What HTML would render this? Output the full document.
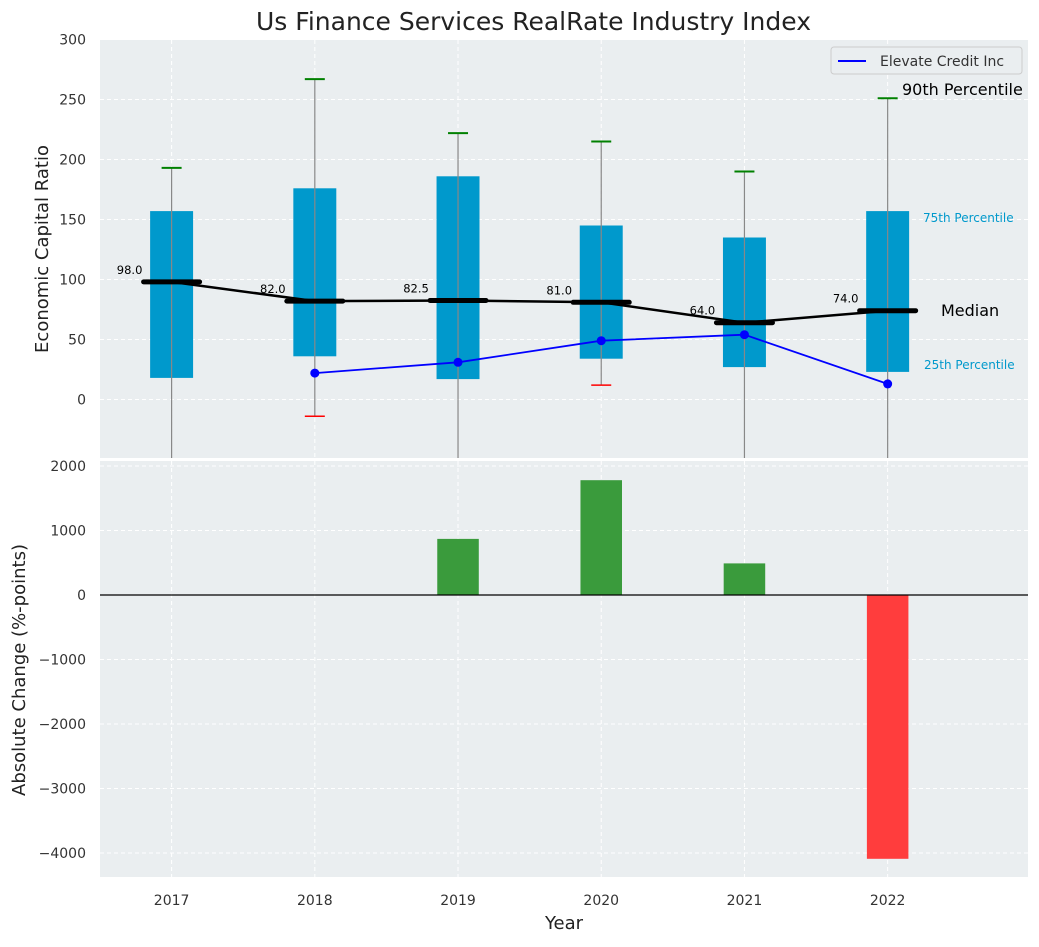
<!DOCTYPE html>
<html><head><meta charset="utf-8"><style>
body{margin:0;background:#fff;font-family:"Liberation Sans","DejaVu Sans",sans-serif}
svg text{font-family:"DejaVu Sans","Liberation Sans",sans-serif}
</style></head><body>
<svg id="c" width="1039" height="942" xmlns="http://www.w3.org/2000/svg"></svg>
<script>
const years=[2017,2018,2019,2020,2021,2022];
const q25=[18,36,17,34,27,23];
const q75=[157,176,186,145,135,157];
const p90=[193,267,222,215,190,251];
const p10=[-80,-14,-80,12,-80,-80];
const medians=[98,82,82.5,81,64,74];
const elevYears=[2018,2019,2020,2021,2022];
const elevVals=[22,31,49,54,13];
const changes=[0,0,870,1780,490,-4090];
const yTicksTop=[0,50,100,150,200,250,300];
const yTicksBot=[-4000,-3000,-2000,-1000,0,1000,2000];

const NS="http://www.w3.org/2000/svg";
const svg=document.getElementById('c');
function el(t,a,txt){const e=document.createElementNS(NS,t);for(const k in a)e.setAttribute(k,a[k]);if(txt!==undefined)e.textContent=txt;svg.appendChild(e);return e;}
const L=100,R=1028;
const x=v=>L+(v-2016.5)/(2022.98-2016.5)*(R-L);
const yT=v=>399.5-v*1.2;
const yB=v=>595-v*0.0645;
const T0=40,T1=458,B0=461,B1=877;

let r=el('rect',{x:L,y:T0,width:R-L,height:T1-T0,fill:'#eaeef0'});

r=el('rect',{x:L,y:B0,width:R-L,height:B1-B0,fill:'#eaeef0'});


years.forEach(yr=>{
  el('line',{x1:x(yr),x2:x(yr),y1:T0,y2:T1,stroke:'#fff','stroke-dasharray':'4,3'});
  el('line',{x1:x(yr),x2:x(yr),y1:B0,y2:B1,stroke:'#fff','stroke-dasharray':'4,3'});
  let t=el('text',{x:x(yr),y:905,'text-anchor':'middle','font-size':14,fill:'#333'},yr);
  
});
yTicksTop.forEach(v=>{
  el('line',{x1:L,x2:R,y1:yT(v),y2:yT(v),stroke:'#fff','stroke-dasharray':'4,3'});
  let t=el('text',{x:86,y:yT(v)+5,'text-anchor':'end','font-size':14,fill:'#333'},v);
  
});
yTicksBot.forEach(v=>{
  el('line',{x1:L,x2:R,y1:yB(v),y2:yB(v),stroke:'#fff','stroke-dasharray':'4,3'});
  let t=el('text',{x:86,y:yB(v)+5,'text-anchor':'end','font-size':14,fill:'#333'},(v<0?'−':'')+Math.abs(v));
  
});

const cp=el('clipPath',{id:'ct'});
const cr=document.createElementNS(NS,'rect');cr.setAttribute('x',L);cr.setAttribute('y',T0);cr.setAttribute('width',R-L);cr.setAttribute('height',T1-T0);cp.appendChild(cr);
const g=el('g',{'clip-path':'url(#ct)'});
function gel(t,a){const e=el(t,a);g.appendChild(e);return e;}

const bw=0.3*(x(1)-x(0));
years.forEach((yr,i)=>{
  let b=gel('rect',{x:x(yr)-bw/2,y:yT(q75[i]),width:bw,height:yT(q25[i])-yT(q75[i]),fill:'#0099cc'});
  
  let w=gel('line',{x1:x(yr),x2:x(yr),y1:yT(p90[i]),y2:yT(p10[i]),stroke:'#888','stroke-width':1.2});
  
  let c=gel('line',{x1:x(yr)-10,x2:x(yr)+10,y1:yT(p90[i]),y2:yT(p90[i]),stroke:'green','stroke-width':2});
  
  c=gel('line',{x1:x(yr)-10,x2:x(yr)+10,y1:yT(p10[i]),y2:yT(p10[i]),stroke:'red','stroke-width':1.5});
  
});
let pts=years.map((yr,i)=>x(yr)+','+yT(medians[i])).join(' ');
let ml=el('polyline',{points:pts,fill:'none',stroke:'#000','stroke-width':2.5});

years.forEach((yr,i)=>{
  let m=el('line',{x1:x(yr)-28,x2:x(yr)+28,y1:yT(medians[i]),y2:yT(medians[i]),stroke:'#000','stroke-width':5,'stroke-linecap':'round'});
  
  let t=el('text',{x:x(yr)-42,y:yT(medians[i])-8,'text-anchor':'middle','font-size':11.5,fill:'#000'},medians[i].toFixed(1));
  
});
pts=elevYears.map((yr,i)=>x(yr)+','+yT(elevVals[i])).join(' ');
let bl=el('polyline',{points:pts,fill:'none',stroke:'blue','stroke-width':1.8});

elevYears.forEach((yr,i)=>{
  let p=el('circle',{cx:x(yr),cy:yT(elevVals[i]),r:4.5,fill:'blue'});
  
});

function ann(txt,xx,yy,fs,col,n){let t=el('text',{x:xx,y:yy,'font-size':fs,fill:col},txt);}
ann('90th Percentile',902,95,16,'#000','annotation-90th');
ann('75th Percentile',923,222,12,'#0099cc','annotation-75th');
ann('25th Percentile',924,369,12,'#0099cc','annotation-25th');
ann('Median',941,316,16,'#000','annotation-median');

const bbw=0.29*(x(1)-x(0));
years.forEach((yr,i)=>{
  if(!changes[i])return;
  const v=changes[i];
  let b=el('rect',{x:x(yr)-bbw/2,y:Math.min(yB(v),yB(0)),width:bbw,height:Math.abs(yB(v)-yB(0)),fill:v>0?'#3a9b3c':'#ff3d3d'});
  
});
let zl=el('line',{x1:L,x2:R,y1:yB(0),y2:yB(0),stroke:'#000','stroke-width':1.2});


let lg=el('rect',{x:831,y:47,width:191,height:27,fill:'#eaeef0',stroke:'#ccc',rx:3});

el('line',{x1:838,x2:866,y1:61,y2:61,stroke:'blue','stroke-width':2});
ann('Elevate Credit Inc',880,66,14,'#333','legend-entry');

ann('Us Finance Services RealRate Industry Index',256,30,25,'#222','chart-title');
let t=el('text',{x:48,y:249,'font-size':18,fill:'#222','text-anchor':'middle',transform:'rotate(-90 48 249)'},'Economic Capital Ratio');

t=el('text',{x:25,y:670,'font-size':18,fill:'#222','text-anchor':'middle',transform:'rotate(-90 25 670)'},'Absolute Change (%-points)');

t=el('text',{x:564,y:929,'font-size':18,fill:'#222','text-anchor':'middle'},'Year');

</script>
</body></html>
